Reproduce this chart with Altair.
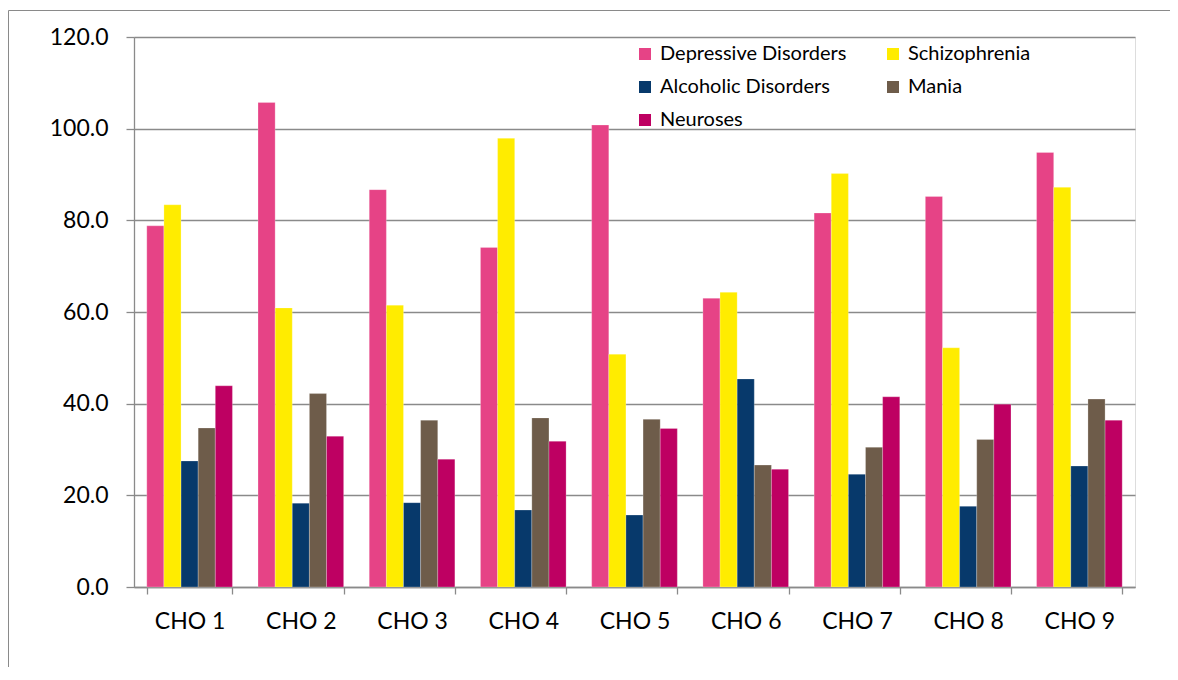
import altair as alt
import pandas as pd

categories = ["CHO 1", "CHO 2", "CHO 3", "CHO 4", "CHO 5", "CHO 6", "CHO 7", "CHO 8", "CHO 9"]
series = ["Depressive Disorders", "Schizophrenia", "Alcoholic Disorders", "Mania", "Neuroses"]
colors = ["#E64386", "#FFEC00", "#07396B", "#6E5C4A", "#BE0062"]

depressive = [78.8, 105.7, 86.7, 74.1, 100.8, 63.0, 81.6, 85.2, 94.8]
schizophrenia = [83.4, 60.9, 61.5, 97.9, 50.8, 64.3, 90.2, 52.2, 87.2]
alcoholic = [27.5, 18.3, 18.4, 16.8, 15.7, 45.4, 24.6, 17.6, 26.4]
mania = [34.7, 42.2, 36.4, 36.9, 36.6, 26.6, 30.5, 32.2, 41.0]
neuroses = [43.9, 32.9, 27.9, 31.8, 34.6, 25.7, 41.5, 39.9, 36.4]

y_ticks = [0, 20, 40, 60, 80, 100, 120]

rows = []
for s, vals in zip(series, [depressive, schizophrenia, alcoholic, mania, neuroses]):
    for c, v in zip(categories, vals):
        rows.append({"cat": c, "series": s, "value": v})
df = pd.DataFrame(rows)

FONT = "Lato"
GRAY = "#8a8a8a"

bars = alt.Chart(df).mark_bar(stroke="white", strokeWidth=0.4, strokeOpacity=0.6).encode(
    x=alt.X("cat:N", sort=categories,
            scale=alt.Scale(paddingInner=0.23, paddingOuter=0.115),
            axis=alt.Axis(title=None, labelAngle=0, tickBand="extent",
                          labelFont=FONT, labelFontSize=23, labelColor="black",
                          labelPadding=16, tickSize=7, tickColor=GRAY, tickWidth=1.3,
                          domainColor=GRAY, domainWidth=1.3, grid=False)),
    xOffset=alt.XOffset("series:N", sort=series,
                        scale=alt.Scale(paddingInner=0, paddingOuter=0)),
    y=alt.Y("value:Q", scale=alt.Scale(domain=[0, 120], nice=False),
            axis=alt.Axis(title=None, values=y_ticks, format=".1f",
                          labelFont=FONT, labelFontSize=23, labelColor="black",
                          labelPadding=18, tickSize=8, tickColor=GRAY, tickWidth=1.3,
                          domainColor=GRAY, domainWidth=1.3,
                          grid=True, gridColor=GRAY, gridWidth=1.3)),
    color=alt.Color("series:N", sort=series,
                    scale=alt.Scale(domain=series, range=colors),
                    legend=alt.Legend(title=None, orient="none", legendX=501, legendY=7,
                                      direction="horizontal",
                                      columns=2, symbolType="square", symbolSize=144,
                                      symbolStrokeWidth=0, labelFont=FONT, labelFontSize=20,
                                      labelColor="black", labelOffset=5, labelLimit=400,
                                      rowPadding=13, columnPadding=36, padding=0)),
)

frame_df = pd.DataFrame({"k": [0]})
frame_left = alt.Chart(frame_df).mark_rule(color=GRAY, strokeWidth=1).encode(
    x=alt.value(-125.5), y=alt.value(-26.5), y2=alt.value(700))
frame_top = alt.Chart(frame_df).mark_rule(color=GRAY, strokeWidth=1).encode(
    x=alt.value(-125.5), x2=alt.value(1100), y=alt.value(-26.5))

chart = alt.layer(bars, frame_left, frame_top).properties(
    width=1001, height=550,
    autosize=alt.AutoSizeParams(type="none"),
    padding={"left": 126, "top": 29, "right": 35, "bottom": 80},
).configure_view(stroke=None).configure(background="white")

chart.save("out.html", embed_options={"renderer": "svg", "actions": False})
